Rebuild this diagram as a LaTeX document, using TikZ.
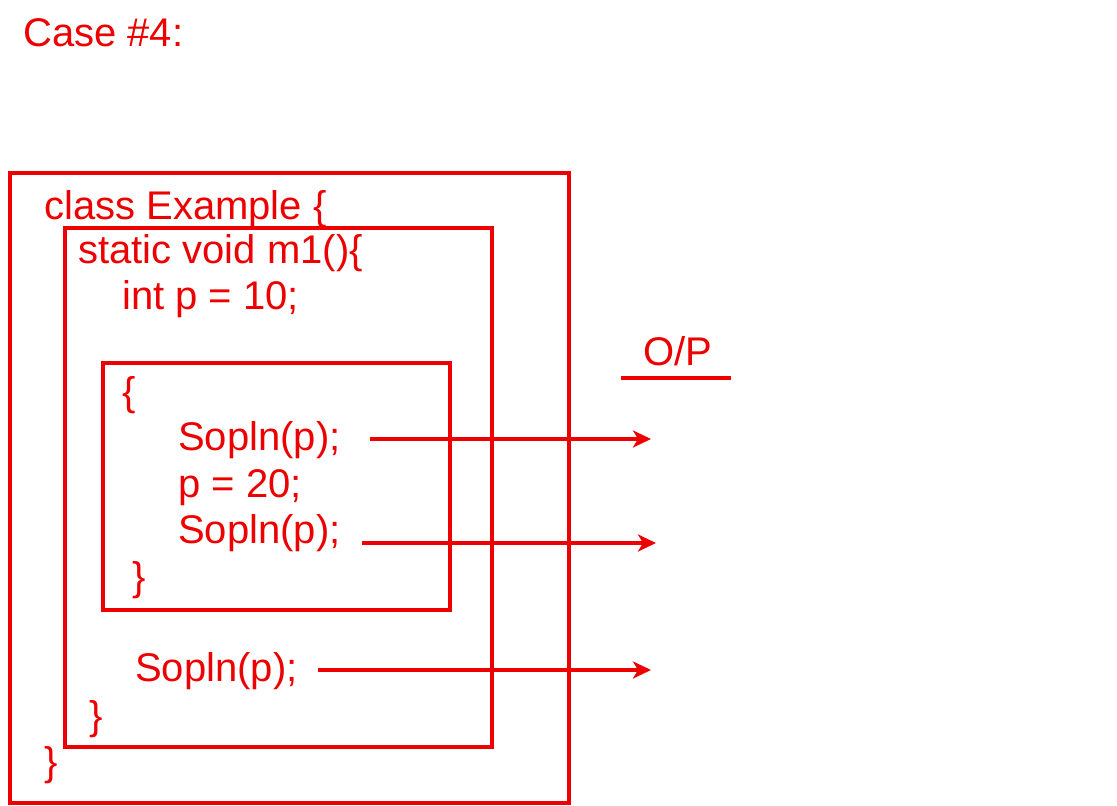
\documentclass[tikz,border=0pt]{standalone}
\usepackage{fontspec}
\setmainfont{Liberation Sans}
\usetikzlibrary{arrows.meta}

\definecolor{slidered}{RGB}{236,0,0}

\tikzset{
  code/.style={anchor=base west, inner sep=0pt, text=slidered,
    font=\fontsize{40}{48}\selectfont},
  scopebox/.style={draw=slidered, line width=3.4pt},
  outarrow/.style={draw=slidered, line width=3.2pt,
    -{Stealth[length=18pt, width=17pt, inset=5pt]}}
}

\begin{document}
\begin{tikzpicture}[x=1pt, y=-1pt]
\useasboundingbox (0,0) rectangle (1117,806);

% Title
\node[code] (title) at (23,46) {Case \#4:};

% Nested scopes: class, method, block
\draw[scopebox] (10,173) rectangle (569,803);
\draw[scopebox] (65,228) rectangle (492,747);
\draw[scopebox] (103,363) rectangle (450,610);

% Code lines
\node[code] (cls)    at (44,219)  {class Example \{};
\node[code] (method) at (78,263)  {static void m1()\{};
\node[code] (decl)   at (122,309) {int p = 10;};
\node[code] (bopen)  at (122,405) {\{};
\node[code] (print1) at (178,450) {Sopln(p);};
\node[code] (assign) at (178,497) {p = 20;};
\node[code] (print2) at (178,543) {Sopln(p);};
\node[code] (bclose) at (132,590) {\}};
\node[code] (print3) at (135,681) {Sopln(p);};
\node[code] (mclose) at (89,729)  {\}};
\node[code] (cclose) at (44,775)  {\}};

% Output column
\node[code] (op) at (643,365) {O/P};
\coordinate (opl) at (621,378);
\coordinate (opr) at (731,378);
\draw[slidered, line width=3.2pt] (opl) -- (opr);

\coordinate (out1) at (651,439);
\coordinate (out2) at (656,543);
\coordinate (out3) at (651,670);

% Print arrows
\draw[outarrow] ([xshift=29pt]print1.east |- out1) -- (out1);
\draw[outarrow] ([xshift=21pt]print2.east |- out2) -- (out2);
\draw[outarrow] ([xshift=20pt]print3.east |- out3) -- (out3);
\end{tikzpicture}
\end{document}
